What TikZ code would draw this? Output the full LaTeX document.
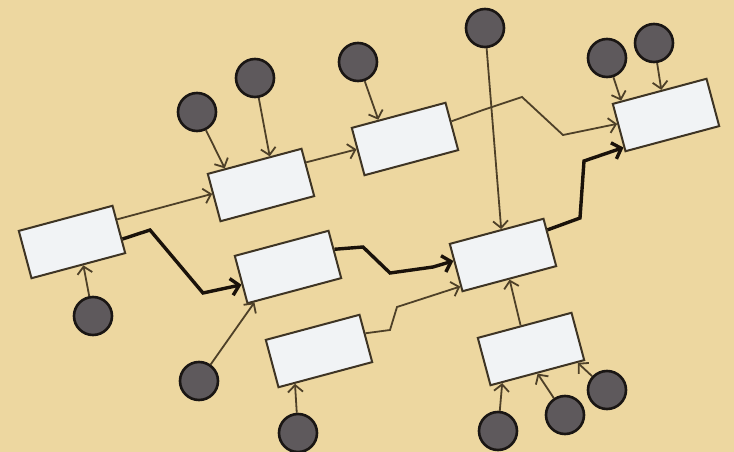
\documentclass[tikz,border=0pt]{standalone}
\usetikzlibrary{arrows.meta,calc}
\definecolor{bg}{HTML}{EDD7A0}
\definecolor{boxfill}{HTML}{F1F3F5}
\definecolor{boxedge}{HTML}{3E3424}
\definecolor{dotfill}{HTML}{5E595C}
\definecolor{dotedge}{HTML}{1A1614}
\definecolor{thinc}{HTML}{4E4028}
\definecolor{thickc}{HTML}{1A120A}
\begin{document}
\begin{tikzpicture}[x=1pt,y=-1pt,
  boxnode/.style={draw=boxedge, fill=boxfill, line width=2pt, minimum width=97pt, minimum height=49pt, rotate=15, inner sep=0pt},
  dot/.style={circle, draw=dotedge, fill=dotfill, line width=2.6pt, minimum size=38pt, inner sep=0pt},
  thinlink/.style={draw=thinc, line width=1.8pt, -{Straight Barb[length=7pt,width=15pt]}},
  thicklink/.style={draw=thickc, line width=3.4pt, -{Straight Barb[length=8pt,width=17pt]}}
]
\fill[bg] (0,0) rectangle (734,452);
\useasboundingbox (0,0) rectangle (734,452);

% boxes
\node[boxnode] (A) at (72,242) {};
\node[boxnode] (B) at (261,185) {};
\node[boxnode] (C) at (405,139) {};
\node[boxnode] (D) at (666,115) {};
\node[boxnode] (E) at (288,267) {};
\node[boxnode] (F) at (319,351) {};
\node[boxnode] (G) at (503,255) {};
\node[boxnode] (H) at (531,349) {};

% dots
\node[dot] (c1) at (93,316) {};
\node[dot] (c2) at (197,112) {};
\node[dot] (c3) at (255,78) {};
\node[dot] (c4) at (358,62) {};
\node[dot] (c5) at (485,28) {};
\node[dot] (c6) at (607,58) {};
\node[dot] (c7) at (654,43) {};
\node[dot] (c8) at (199,381) {};
\node[dot] (c9) at (298,433) {};
\node[dot] (c10) at (498,431) {};
\node[dot] (c11) at (565,415) {};
\node[dot] (c12) at (607,390) {};

% thin links from dots
\draw[thinlink] (c1) -- ($(A.south west)!0.55!(A.south east)$);
\draw[thinlink] (c2) -- ($(B.north west)!0.19!(B.north east)$);
\draw[thinlink] (c3) -- ($(B.north west)!0.66!(B.north east)$);
\draw[thinlink] (c4) -- ($(C.north west)!0.29!(C.north east)$);
\draw[thinlink] (c5) -- ($(G.north west)!0.55!(G.north east)$);
\draw[thinlink] (c6) -- ($(D.north west)!0.1!(D.north east)$);
\draw[thinlink] (c7) -- ($(D.north west)!0.52!(D.north east)$);
\draw[thinlink] (c8) -- ($(E.south west)!0.08!(E.south east)$);
\draw[thinlink] (c9) -- ($(F.south west)!0.18!(F.south east)$);
\draw[thinlink] (c10) -- ($(H.south west)!0.13!(H.south east)$);
\draw[thinlink] (c11) -- ($(H.south west)!0.5!(H.south east)$);
\draw[thinlink] (c12) -- ($(H.south west)!0.92!(H.south east)$);

% thin links between boxes
\draw[thinlink] ($(A.north east)!0.3!(A.south east)$) -- ($(B.north west)!0.42!(B.south west)$);
\draw[thinlink] ($(B.north east)!0.3!(B.south east)$) -- ($(C.north west)!0.45!(C.south west)$);
\draw[thinlink] ($(C.north east)!0.4!(C.south east)$) -- (483,110) -- (522,97) -- (563,135) -- ($(D.north west)!0.42!(D.south west)$);
\draw[thinlink] ($(F.north east)!0.4!(F.south east)$) -- (390,330) -- (397,307) -- ($(G.north west)!0.88!(G.south west)$);
\draw[thinlink] ($(H.north west)!0.46!(H.north east)$) -- ($(G.south west)!0.5!(G.south east)$);

% thick links
\draw[thicklink] ($(A.north east)!0.7!(A.south east)$) -- (150,230) -- (203,293) -- ($(E.north west)!0.6!(E.south west)$);
\draw[thicklink] ($(E.north east)!0.4!(E.south east)$) -- (363,247) -- (390,273) -- (433,267) -- ($(G.north west)!0.36!(G.south west)$);
\draw[thicklink] ($(G.north east)!0.25!(G.south east)$) -- (580,218) -- (584,161) -- ($(D.north west)!0.9!(D.south west)$);
\end{tikzpicture}
\end{document}
